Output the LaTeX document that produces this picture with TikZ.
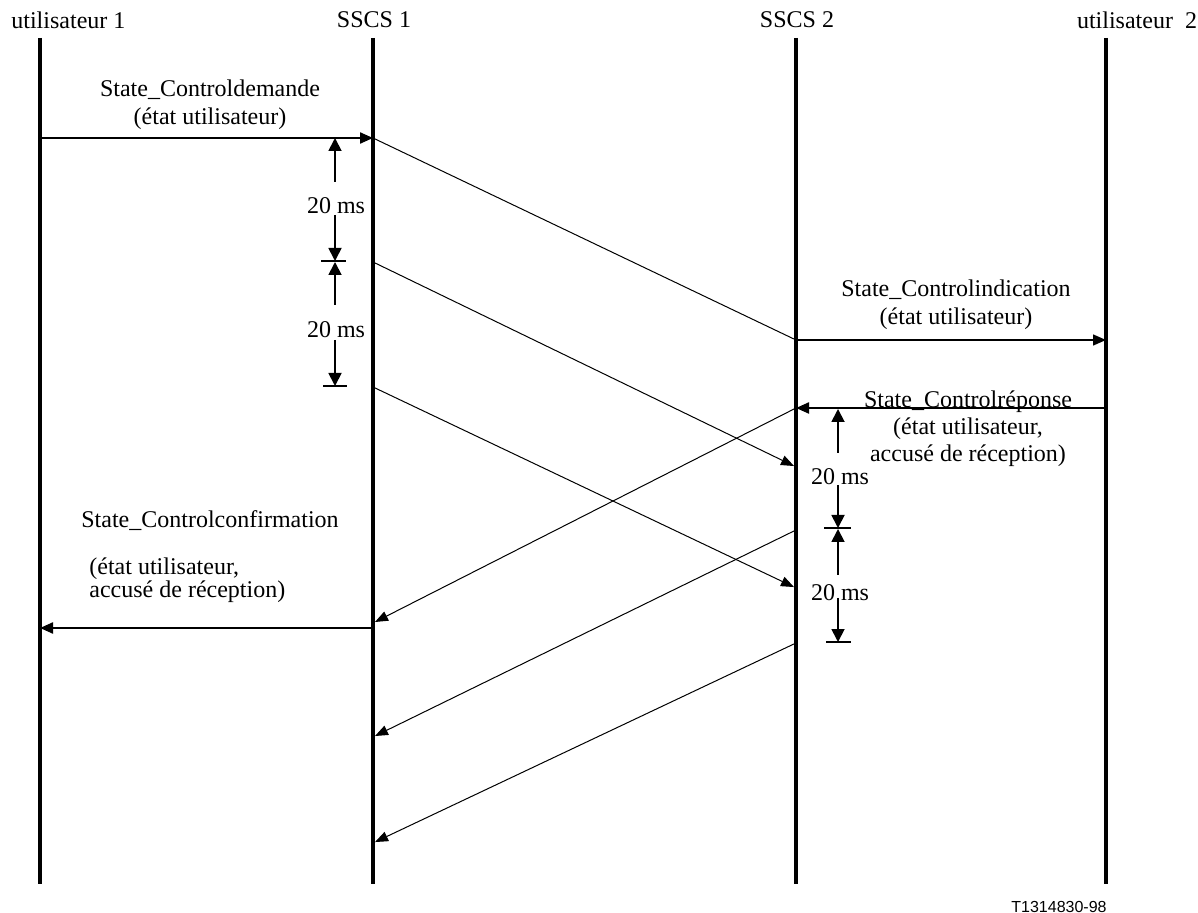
\documentclass[tikz,border=0pt]{standalone}
\usepackage{fontspec}
\setmainfont{Liberation Serif}
\newfontfamily\tagfont{Liberation Sans}
\usepackage{tikz}
\usetikzlibrary{arrows.meta, calc}
\tikzset{
  lifeline/.style={line width=2.4pt},
  head/.style={font=\fontsize{12}{14}\selectfont, inner sep=0pt},
  msglabel/.style={font=\fontsize{12}{14}\selectfont, align=center, inner sep=0pt},
  msg/.style={-{Triangle[length=6.5pt, width=5.5pt]}, line width=1.1pt},
  thinmsg/.style={-{Triangle[length=6.5pt, width=5.5pt]}, line width=0.7pt},
  relay/.style={-{Triangle[length=6.5pt, width=5pt]}, line width=0.5pt, shorten >=1.1pt},
  timer/.style={-{Triangle[length=6.5pt, width=6.5pt]}, line width=0.9pt},
  tickmark/.style={line width=0.9pt},
  delay/.style={font=\fontsize{12}{14}\selectfont, inner sep=0pt},
}

\begin{document}
\begin{tikzpicture}[x=0.5pt, y=-0.5pt]
  \useasboundingbox (0,0) rectangle (1198,913);

  % Lifelines and their headers
  \coordinate (u1top) at (40,38);   \coordinate (u1bot) at (40,884);
  \coordinate (s1top) at (373,38);  \coordinate (s1bot) at (373,884);
  \coordinate (s2top) at (796,38);  \coordinate (s2bot) at (796,884);
  \coordinate (u2top) at (1106,38); \coordinate (u2bot) at (1106,884);
  \draw[lifeline] (u1top) -- (u1bot);
  \draw[lifeline] (s1top) -- (s1bot);
  \draw[lifeline] (s2top) -- (s2bot);
  \draw[lifeline] (u2top) -- (u2bot);
  \node[head, anchor=west] (hu1) at (11,20) {utilisateur 1};
  \node[head] (hs1) at (374,20) {SSCS 1};
  \node[head] (hs2) at (797,20) {SSCS 2};
  \node[head] (hu2) at (1137,20) {utilisateur\ \ 2};

  % Points where messages leave or reach a lifeline
  \coordinate (req0) at (40,138);   \coordinate (req1) at (373,138);
  \coordinate (ind0) at (796,340);  \coordinate (ind1) at (1106,340);
  \coordinate (s1b) at (373,262);   \coordinate (s2b) at (796,467);
  \coordinate (s1c) at (373,387);   \coordinate (s2c) at (796,588);
  \coordinate (rsp0) at (1106,408); \coordinate (rsp1) at (796,408);
  \coordinate (s1d) at (373,623);
  \coordinate (s2e) at (796,530);   \coordinate (s1e) at (373,737);
  \coordinate (s2f) at (796,643);   \coordinate (s1f) at (373,843);
  \coordinate (cnf0) at (373,628);  \coordinate (cnf1) at (40,628);

  % Request side
  \draw[msg] (req0) -- (req1);
  \node[msglabel] (lreq) at (210,105) {State\_Controldemande\\(état utilisateur)};
  \draw[relay, -] (req1) -- (ind0);
  \draw[relay] (s1b) -- (s2b);
  \draw[relay] (s1c) -- (s2c);

  % Indication to user 2
  \draw[thinmsg] (ind0) -- (ind1);
  \node[msglabel] (lind) at (956,305) {State\_Controlindication\\(état utilisateur)};

  % Response from user 2
  \node[msglabel, font=\fontsize{12}{13.5}\selectfont] (lrsp) at (968,429)
    {State\_Controlréponse\\(état utilisateur,\\accusé de réception)};
  \draw[msg] (rsp0) -- (rsp1);
  \draw[relay] (rsp1) -- (s1d);
  \draw[relay] (s2e) -- (s1e);
  \draw[relay] (s2f) -- (s1f);

  % Confirmation to user 1
  \draw[msg] (cnf0) -- (cnf1);
  \node[msglabel] (lcnf) at (210,521) {State\_Controlconfirmation};
  \node[msglabel, align=left, anchor=west, font=\fontsize{12}{11.5}\selectfont] (lcnf2) at (89,580)
    {(état utilisateur,\\accusé de réception)};

  % 20 ms repetition timers at SSCS 1
  \coordinate (ta0) at (335,182); \coordinate (ta1) at (335,138);
  \coordinate (tb0) at (335,215); \coordinate (tb1) at (335,261);
  \coordinate (tg0) at (335,305); \coordinate (tg1) at (335,262);
  \coordinate (th0) at (335,340); \coordinate (th1) at (335,386);
  \draw[timer] (ta0) -- (ta1);
  \node[delay] (d1) at (336,206) {20 ms};
  \draw[timer] (tb0) -- (tb1);
  \draw[tickmark] ($(tb1)+(-14,0)$) -- ($(tb1)+(11,0)$);
  \draw[timer] (tg0) -- (tg1);
  \node[delay] (d2) at (336,330) {20 ms};
  \draw[timer] (th0) -- (th1);
  \draw[tickmark] ($(th1)+(-12,0)$) -- ($(th1)+(12,0)$);

  % 20 ms repetition timers at SSCS 2
  \coordinate (tc0) at (838,453); \coordinate (tc1) at (838,409);
  \coordinate (td0) at (838,485); \coordinate (td1) at (838,528);
  \coordinate (te0) at (838,575); \coordinate (te1) at (838,529);
  \coordinate (tf0) at (838,598); \coordinate (tf1) at (838,642);
  \draw[timer] (tc0) -- (tc1);
  \node[delay] (d3) at (840,477) {20 ms};
  \draw[timer] (td0) -- (td1);
  \draw[tickmark] ($(td1)+(-14,0)$) -- ($(td1)+(13,0)$);
  \draw[timer] (te0) -- (te1);
  \node[delay] (d4) at (840,593) {20 ms};
  \draw[timer] (tf0) -- (tf1);
  \draw[tickmark] ($(tf1)+(-12,0)$) -- ($(tf1)+(13,0)$);

  \node[anchor=east, inner sep=0pt, font=\tagfont\fontsize{8}{10}\selectfont] (tag) at (1107,907) {T1314830-98};
\end{tikzpicture}
\end{document}
